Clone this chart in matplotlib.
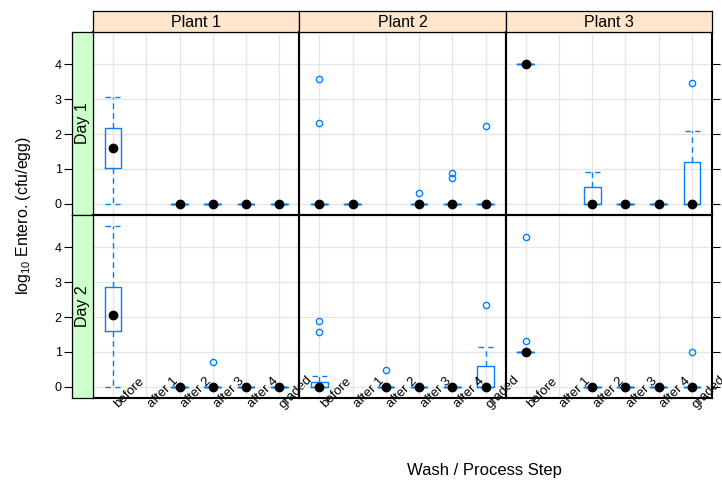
import numpy as np
import matplotlib
matplotlib.use("Agg")
import matplotlib.pyplot as plt

plt.rcParams['font.family'] = ['Liberation Sans', 'DejaVu Sans']
plt.rcParams['mathtext.default'] = 'regular'

steps = ['before', 'after 1', 'after 2', 'after 3', 'after 4', 'graded']
plants = ['Plant 1', 'Plant 2', 'Plant 3']
days = ['Day 1', 'Day 2']

# box stats per step: (whisker low, q1, median, q3, whisker high, outliers), None = no data
zero = (0, 0, 0, 0, 0, [])
plant1_day1 = [(0, 1.03, 1.6, 2.17, 3.06, []), None, zero, zero, zero, zero]
plant2_day1 = [(0, 0, 0, 0, 0, [2.33, 3.57]), zero, None,
               (0, 0, 0, 0, 0, [0.32]), (0, 0, 0, 0, 0, [0.75, 0.88]),
               (0, 0, 0, 0, 0, [2.23])]
plant3_day1 = [(4, 4, 4, 4, 4, []), None, (0, 0, 0, 0.47, 0.91, []),
               zero, zero, (0, 0, 0, 1.2, 2.08, [3.47])]
plant1_day2 = [(0, 1.6, 2.06, 2.86, 4.61, []), None, zero,
               (0, 0, 0, 0, 0, [0.72]), zero, zero]
plant2_day2 = [(0, 0, 0, 0.15, 0.31, [1.57, 1.9]), None,
               (0, 0, 0, 0, 0, [0.48]), zero, zero,
               (0, 0, 0, 0.6, 1.15, [2.34])]
plant3_day2 = [(1, 1, 1, 1, 1, [1.31, 4.31]), None, zero, zero, zero,
               (0, 0, 0, 0, 0, [1.0])]

panels = [[plant1_day1, plant2_day1, plant3_day1],
          [plant1_day2, plant2_day2, plant3_day2]]

blue = '#0080ff'
W, H = 722, 480
fig = plt.figure(figsize=(W / 100, H / 100), dpi=100)


def rect(x0, y0, w, h):
    return [x0 / W, 1 - (y0 + h) / H, w / W, h / H]


px0, py0 = 93, 32
pw, ph = 619 / 3, 183
ylim = (-0.32, 4.93)

for r in range(2):
    for c in range(3):
        ax = fig.add_axes(rect(px0 + c * pw, py0 + r * ph, pw, ph))
        ax.set_facecolor('none')
        ax.set_xlim(0.4, 6.6)
        ax.set_ylim(*ylim)
        for x in range(1, 7):
            ax.axvline(x, color='#e6e6e6', lw=1, zorder=0)
        for y in range(0, 5):
            ax.axhline(y, color='#e6e6e6', lw=1, zorder=0)
        data = panels[r][c]
        stats, pos = [], []
        for i, s in enumerate(data):
            if s is None:
                continue
            lo, q1, med, q3, hi, out = s
            stats.append(dict(whislo=lo, q1=q1, med=med, q3=q3, whishi=hi, fliers=out))
            pos.append(i + 1)
        ax.bxp(stats, positions=pos, widths=0.5, capwidths=0.45,
               boxprops=dict(color=blue, lw=1),
               whiskerprops=dict(color=blue, lw=1, ls=(0, (4, 3))),
               capprops=dict(color=blue, lw=1, ls=(0, (4, 3))),
               medianprops=dict(lw=0),
               flierprops=dict(marker='o', mfc='none', mec=blue, ms=4.5, mew=1))
        ax.plot(pos, [s['med'] for s in stats], 'o', color='black', ms=6, zorder=5)
        ax.set_xticks([])
        for sp in ax.spines.values():
            sp.set_linewidth(1.5)
        if c == 2:
            ax.yaxis.tick_right()
            ax.set_yticks(range(5))
            ax.tick_params(axis='y', length=6, width=0.8, labelright=False)
        else:
            ax.set_yticks([])
        if r == 1:
            for i, lab in enumerate(steps):
                ax.text(i + 1.5, 0.03, lab, transform=ax.get_xaxis_transform(),
                        rotation=45, ha='center', va='center', fontsize=9.5,
                        clip_on=False, zorder=10)
        if r == 0:
            st = fig.add_axes(rect(px0 + c * pw, 11, pw, 21))
            st.set_facecolor('#ffe5cc')
            st.set_xticks([])
            st.set_yticks([])
            st.text(0.5, 0.45, plants[c], ha='center', va='center', fontsize=11.5)
            for sp in st.spines.values():
                sp.set_linewidth(0.9)

    ls = fig.add_axes(rect(72, py0 + r * ph, 21, ph))
    ls.set_facecolor('#ccffcc')
    ls.set_ylim(*ylim)
    ls.set_xticks([])
    ls.set_yticks(range(5))
    ls.tick_params(axis='y', length=6, width=0.8, pad=1.5, labelsize=9)
    ls.text(0.5, 0.5, days[r], rotation=90, ha='center', va='center',
            fontsize=11.5, transform=ls.transAxes)
    for sp in ls.spines.values():
        sp.set_linewidth(0.9)

fig.text(24 / W, 1 - 215 / H, r'log$_{10}$ Entero. (cfu/egg)', rotation=90,
         ha='center', va='center', fontsize=11.5)
fig.text(484 / W, 1 - 470 / H, 'Wash / Process Step', ha='center', va='center',
         fontsize=12)

fig.savefig('out.png', dpi=100)
